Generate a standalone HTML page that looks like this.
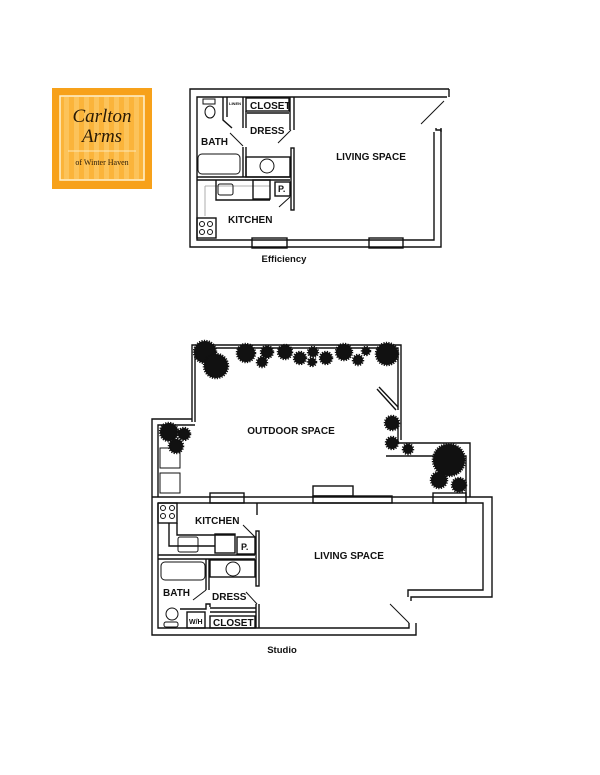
<!DOCTYPE html>
<html><head><meta charset="utf-8"><style>
html,body{margin:0;padding:0;background:#fff;}
svg{display:block;}
text{font-family:"Liberation Sans",Arial,sans-serif;font-weight:bold;fill:#111;}
.w{fill:none;stroke:#111;stroke-width:1.4;}
.t{fill:none;stroke:#111;stroke-width:1;}
.g{fill:none;stroke:#999;stroke-width:0.8;}
.p{fill:#111;stroke:#111;stroke-width:2.5;stroke-dasharray:1.2 1.2;}
</style></head><body>
<svg width="600" height="775" viewBox="0 0 600 775" xmlns="http://www.w3.org/2000/svg">
<rect width="600" height="775" fill="#fff"/>
<!-- Logo -->
<rect x="52" y="88" width="100" height="101" fill="#f7a11a"/>
<rect x="60" y="96" width="84" height="84" fill="#fbb43a" stroke="#fff2d0" stroke-width="1.5"/>
<g fill="#fcc35a">
<rect x="64" y="97" width="5" height="82"/><rect x="74" y="97" width="5" height="82"/><rect x="84" y="97" width="5" height="82"/><rect x="94" y="97" width="5" height="82"/><rect x="104" y="97" width="5" height="82"/><rect x="114" y="97" width="5" height="82"/><rect x="124" y="97" width="5" height="82"/><rect x="134" y="97" width="5" height="82"/>
</g>
<text x="102" y="122" text-anchor="middle" style="font-family:'Liberation Serif',serif;font-weight:normal;font-style:italic;font-size:19px;fill:#2a1a05">Carlton</text>
<text x="102" y="142" text-anchor="middle" style="font-family:'Liberation Serif',serif;font-weight:normal;font-style:italic;font-size:19px;fill:#2a1a05">Arms</text>
<line x1="68" y1="151" x2="136" y2="151" stroke="#fde8b8" stroke-width="1"/>
<text x="102" y="165" text-anchor="middle" style="font-family:'Liberation Serif',serif;font-weight:normal;font-size:8px;fill:#2a1a05">of Winter Haven</text>

<!-- Efficiency -->
<path class="w" d="M449,89 H190 V247 H441 V130 H436 V128"/>
<path class="w" d="M447,97 H197 V240 H434 V132"/>
<line class="w" x1="449" y1="89" x2="449" y2="97"/>
<line class="w" x1="441" y1="128" x2="441" y2="132"/>
<line class="t" x1="421" y1="124" x2="444" y2="101"/>
<rect class="w" x="252" y="238" width="35" height="10" fill="#fff"/>
<rect class="w" x="369" y="238" width="34" height="10" fill="#fff"/>
<!-- bath area -->
<rect class="t" x="203" y="99" width="12" height="5"/>
<ellipse class="t" cx="210" cy="112" rx="5" ry="6"/>
<path class="w" d="M223,97 V120 L232,128 M227,97 V117"/>
<text x="229" y="105" font-size="4">LINEN</text>
<rect class="w" x="246" y="98" width="43" height="13"/>
<text x="250" y="109" font-size="10">CLOSET</text>
<path class="w" d="M243,97 V128 M246,111 V128 M247,113 H289"/>
<path class="w" d="M290,97 V130 M294,97 V130"/>
<line class="t" x1="278" y1="143" x2="291" y2="130"/>
<text x="250" y="134" font-size="10">DRESS</text>
<text x="201" y="145" font-size="10">BATH</text>
<line class="t" x1="230" y1="133" x2="243" y2="146"/>
<path class="w" d="M243,147 V177 M246,147 V177"/>
<rect class="t" x="198" y="154" width="42" height="20" rx="4"/>
<rect class="w" x="246" y="157" width="44" height="20"/>
<circle class="t" cx="267" cy="166" r="7"/>
<path class="w" d="M197,177 H290 M197,180 H290"/>
<rect class="w" x="291" y="148" width="3" height="62"/>
<!-- kitchen -->
<path class="g" d="M205,186 V216 M205,186 H270"/>
<path class="w" d="M216,180 V200 H270"/>
<rect class="t" x="218" y="184" width="15" height="11" rx="2"/>
<rect class="w" x="253" y="180" width="17" height="19"/>
<rect class="w" x="275" y="182" width="15" height="14"/>
<text x="278" y="192" font-size="9">P.</text>
<line class="t" x1="279" y1="207" x2="290" y2="197"/>
<rect class="w" x="197" y="218" width="19" height="20"/>
<circle class="t" cx="202" cy="224" r="2.5"/><circle class="t" cx="210" cy="224" r="2.5"/>
<circle class="t" cx="202" cy="232" r="2.5"/><circle class="t" cx="210" cy="232" r="2.5"/>
<text x="228" y="223" font-size="10">KITCHEN</text>
<text x="371" y="160" font-size="10" text-anchor="middle">LIVING SPACE</text>
<text x="284" y="262" font-size="9.5" text-anchor="middle">Efficiency</text>

<!-- Studio outdoor -->
<path class="w" d="M192,422 V345 H401 V440 M195,422 V348 H398 V410"/>
<path class="w" d="M152,497 V419 H192 M158,497 V425 H195"/>
<path class="w" d="M386,443 H470 V497 M386,456 H466 V497"/>
<path class="w" d="M398,443 V420"/>
<path class="w" d="M377,389 L396,410 M379,387 L398,407"/>
<rect class="t" x="160" y="448" width="20" height="20"/>
<rect class="t" x="160" y="473" width="20" height="20"/>
<!-- plants -->
<g>
<circle class="p" cx="205" cy="352" r="11"/>
<circle class="p" cx="216" cy="366" r="12"/>
<circle class="p" cx="246" cy="353" r="9"/>
<circle class="p" cx="267" cy="352" r="6"/>
<circle class="p" cx="262" cy="362" r="5"/>
<circle class="p" cx="285" cy="352" r="7"/>
<circle class="p" cx="300" cy="358" r="6"/>
<circle class="p" cx="313" cy="352" r="5"/>
<circle class="p" cx="312" cy="362" r="4"/>
<circle class="p" cx="326" cy="358" r="6"/>
<circle class="p" cx="344" cy="352" r="8"/>
<circle class="p" cx="358" cy="360" r="5"/>
<circle class="p" cx="366" cy="351" r="4"/>
<circle class="p" cx="387" cy="354" r="11"/>
<circle class="p" cx="169" cy="432" r="9"/>
<circle class="p" cx="184" cy="434" r="6"/>
<circle class="p" cx="176" cy="446" r="7"/>
<circle class="p" cx="392" cy="423" r="7"/>
<circle class="p" cx="392" cy="443" r="6"/>
<circle class="p" cx="408" cy="449" r="5"/>
<circle class="p" cx="449" cy="460" r="16"/>
<circle class="p" cx="439" cy="480" r="8"/>
<circle class="p" cx="459" cy="485" r="7"/>
</g>
<!-- Studio building -->
<path class="w" d="M152,497 H492 V597 H411 V601 M416,623 V635 H152 V497"/>
<path class="w" d="M158,503 H483 V590 H408 V597 M409,623 V628 H158 V503"/>
<line class="t" x1="390" y1="604" x2="409" y2="623"/>
<rect class="w" x="210" y="493" width="34" height="10" fill="#fff"/>
<rect class="w" x="313" y="486" width="40" height="10" fill="#fff"/>
<rect class="w" x="313" y="496" width="79" height="7" fill="#fff"/>
<rect class="w" x="433" y="493" width="33" height="10" fill="#fff"/>
<!-- studio kitchen -->
<rect class="w" x="158" y="503" width="19" height="20"/>
<circle class="t" cx="163" cy="508" r="2.5"/><circle class="t" cx="172" cy="508" r="2.5"/>
<circle class="t" cx="163" cy="516" r="2.5"/><circle class="t" cx="172" cy="516" r="2.5"/>
<path class="w" d="M169,523 V546 H215 M177,523 V535 H235"/>
<rect class="t" x="178" y="537" width="20" height="15" rx="2"/>
<rect class="w" x="215" y="534" width="20" height="19"/>
<rect class="w" x="237" y="537" width="18" height="17"/>
<text x="241" y="550" font-size="9">P.</text>
<text x="195" y="524" font-size="10">KITCHEN</text>
<line class="t" x1="243" y1="525" x2="256" y2="538"/>
<rect class="w" x="256" y="531" width="3" height="55"/>
<path class="w" d="M257,503 V515"/>
<path class="w" d="M158,555 H255 M158,559 H255"/>
<rect class="t" x="161" y="562" width="44" height="18" rx="4"/>
<path class="w" d="M206,559 V590 M209,559 V590"/>
<rect class="w" x="210" y="560" width="45" height="17"/>
<circle class="t" cx="233" cy="569" r="7"/>
<text x="163" y="596" font-size="10">BATH</text>
<line class="t" x1="193" y1="600" x2="206" y2="590"/>
<text x="212" y="600" font-size="10">DRESS</text>
<line class="t" x1="246" y1="592" x2="257" y2="604"/>
<path class="w" d="M180,609 H206 V604 H210 V607 M256,604 V628 M259,604 V628"/>
<path class="w" d="M210,608 H256 M210,612 H256"/>
<ellipse class="t" cx="172" cy="614" rx="6" ry="6"/>
<rect class="t" x="164" y="622" width="14" height="5" rx="2"/>
<rect class="w" x="187" y="612" width="18" height="16"/>
<text x="189" y="624" font-size="7">W/H</text>
<rect class="w" x="210" y="616" width="45" height="12"/>
<text x="213" y="626" font-size="10">CLOSET</text>
<text x="349" y="559" font-size="10" text-anchor="middle">LIVING SPACE</text>
<text x="291" y="434" font-size="10" text-anchor="middle">OUTDOOR SPACE</text>
<text x="282" y="653" font-size="9.5" text-anchor="middle">Studio</text>
</svg>
</body></html>
